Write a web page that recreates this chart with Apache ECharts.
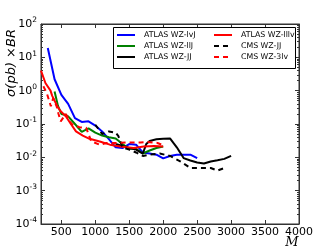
<!DOCTYPE html>
<html><head><meta charset="utf-8">
<script src="https://cdn.jsdelivr.net/npm/echarts@6/dist/echarts.min.js"></script>
<style>html,body{margin:0;padding:0;background:#fff}#c{width:332px;height:249px}</style>
</head><body><div id="c"></div>
<script>
const xTicks = [500,1000,1500,2000,2500,3000,3500,4000];
const yTicks = [1e-4,1e-3,1e-2,1e-1,1,10,100];

const lvjM = [300,400,500,600,700,800,900,1000,1100,1200,1300,1400,1500,1600,1700,1800,1900,2000,2100,2200,2300,2400,2500];
const lvjV = [19,2.2,0.75,0.4,0.15,0.115,0.12,0.09,0.06,0.035,0.02,0.019,0.025,0.024,0.014,0.013,0.012,0.0093,0.011,0.012,0.012,0.012,0.0095];

const lljM = [400,450,500,550,600,700,800,900,1000,1100,1200,1300,1400,1500,1600,1700,1800,1900,2000];
const lljV = [0.95,0.35,0.2,0.19,0.17,0.1,0.058,0.074,0.055,0.045,0.04,0.037,0.025,0.018,0.018,0.013,0.016,0.019,0.021];

const jjM = [1300,1400,1500,1600,1700,1750,1800,1900,2000,2100,2200,2300,2400,2500,2600,2700,2800,2900,3000];
const jjV = [0.025,0.022,0.019,0.017,0.013,0.025,0.031,0.035,0.036,0.037,0.02,0.0095,0.008,0.007,0.0065,0.0075,0.0082,0.009,0.011];

const lllvM = [200,265,340,365,440,490,565,640,715,815,915,1065,1215,1365,1565,1715,1865,2000];
const lllvV = [4.0,1.7,1.0,0.7,0.34,0.24,0.17,0.1,0.06,0.045,0.036,0.03,0.024,0.021,0.019,0.021,0.022,0.021];

const cmsJJM = [1000,1100,1200,1300,1340,1400,1500,1600,1700,1800,1950,2100,2250,2400,2550,2700,2800,2900];
const cmsJJV = [0.095,0.05,0.06,0.055,0.043,0.02,0.017,0.014,0.011,0.012,0.013,0.011,0.0076,0.0048,0.0048,0.0048,0.004,0.0048];

const cms3lvM = [235,285,345,380,430,455,490,565,650,765,865,940,1065,1165,1300,1465,1665,1765,1915,2000];
const cms3lvV = [1.35,0.85,0.34,0.6,0.34,0.21,0.12,0.2,0.1,0.08,0.077,0.03,0.024,0.027,0.027,0.028,0.028,0.029,0.027,0.023];

function pairs(a,b){return a.map((v,i)=>[v,b[i]]);}
const font = 'DejaVu Sans';
function sup(v){
  const e = Math.round(Math.log10(v));
  return '{b|10}{s|' + e + '}';
}
const yLabel = {
  customValues: yTicks,
  formatter: sup, margin: 4,
  rich: {b:{fontFamily:font,fontSize:11,color:'#000'}, s:{fontFamily:font,fontSize:7.5,color:'#000',verticalAlign:'top',padding:[0,0,7,0]}}
};
function line(name, m, v, color, dashed){
  return {name, type:'line', xAxisIndex:0, yAxisIndex:0, data:pairs(m,v), symbol:'none', showSymbol:false,
    lineStyle:{color, width:2, type: dashed ? [5,4] : 'solid'}, itemStyle:{color}, z: dashed?3:2};
}
const legendCommon = {orient:'vertical', top:30, padding:0, itemWidth:18, itemHeight:6, itemGap:1, z:20,
  itemStyle:{opacity:0}, textStyle:{fontFamily:font, fontSize:7.8, color:'#000', lineHeight:10, padding:[0,0,0,4]}};
const chart = echarts.init(document.getElementById('c'), null, {renderer:'canvas'});
chart.setOption({
  animation:false,
  grid:{left:41, right:33, top:24, bottom:25, show:true, borderColor:'#333', borderWidth:1},
  xAxis:[
    {type:'value', min:200, max:4000, position:'bottom',
     axisLine:{show:true,lineStyle:{color:'#333'}}, splitLine:{show:false},
     axisTick:{inside:true, length:4, customValues:xTicks, lineStyle:{color:'#333'}},
     axisLabel:{customValues:xTicks, formatter:v=>String(v), fontFamily:font, fontSize:11, color:'#000', margin:3}},
    {type:'value', min:200, max:4000, position:'top',
     axisLine:{show:true,lineStyle:{color:'#333'}}, splitLine:{show:false},
     axisTick:{inside:true, length:4, customValues:xTicks, lineStyle:{color:'#333'}},
     axisLabel:{show:false}}
  ],
  yAxis:[
    {type:'log', logBase:10, min:1e-4, max:100, position:'left',
     axisLine:{show:true,lineStyle:{color:'#333'}}, splitLine:{show:false},
     axisTick:{inside:true, length:4, customValues:yTicks, lineStyle:{color:'#333'}},
     minorTick:{show:true, splitNumber:9, length:2, lineStyle:{color:'#333'}},
     axisLabel:yLabel},
    {type:'log', logBase:10, min:1e-4, max:100, position:'right',
     axisLine:{show:true,lineStyle:{color:'#333'}}, splitLine:{show:false},
     axisTick:{inside:true, length:4, customValues:yTicks, lineStyle:{color:'#333'}},
     minorTick:{show:true, splitNumber:9, length:2, lineStyle:{color:'#333'}},
     axisLabel:{show:false}}
  ],
  legend:[
    Object.assign({left:116, data:['ATLAS WZ-lvJ','ATLAS WZ-llJ','ATLAS WZ-JJ']}, legendCommon),
    Object.assign({left:213, data:['ATLAS WZ-lllv','CMS WZ-JJ','CMS WZ-3lv']}, legendCommon)
  ],
  graphic:[
    {type:'rect', shape:{x:113.5, y:27.5, width:182, height:41}, style:{fill:'#fff', stroke:'#000', lineWidth:1}, z:10, silent:true},
    {type:'text', x:12, y:63, rotation:Math.PI/2, style:{text:'σ(pb) ×BR', font:'italic 13px "DejaVu Sans"', fill:'#000', align:'center', verticalAlign:'middle'}},
    {type:'text', x:292, y:243, style:{text:'M', font:'italic 13px "DejaVu Serif"', fill:'#000', align:'center', verticalAlign:'middle'}}
  ],
  series:[
    line('ATLAS WZ-lvJ', lvjM, lvjV, '#0000ff', false),
    line('ATLAS WZ-llJ', lljM, lljV, '#008000', false),
    line('ATLAS WZ-JJ', jjM, jjV, '#000000', false),
    line('ATLAS WZ-lllv', lllvM, lllvV, '#ff0000', false),
    line('CMS WZ-JJ', cmsJJM, cmsJJV, '#000000', true),
    line('CMS WZ-3lv', cms3lvM, cms3lvV, '#ff0000', true)
  ]
});
</script></body></html>
